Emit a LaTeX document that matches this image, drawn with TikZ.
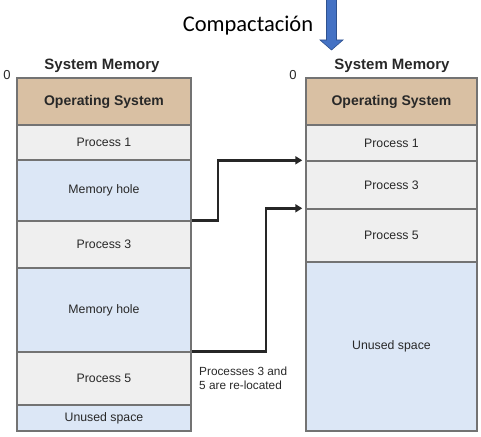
\documentclass[tikz,border=0pt]{standalone}
\usepackage{fontspec}
\setmainfont{Liberation Sans}
\newfontfamily\calib{Carlito}
\usetikzlibrary{arrows.meta}
\definecolor{osfill}{RGB}{217,192,163}
\definecolor{procfill}{RGB}{239,239,239}
\definecolor{holefill}{RGB}{220,231,246}
\definecolor{edgegray}{RGB}{115,115,115}
\definecolor{txtgray}{RGB}{40,40,40}
\definecolor{arrowblue}{RGB}{68,114,196}
\definecolor{arrowedge}{RGB}{47,82,143}
\tikzset{
  memcell/.style={draw=edgegray, line width=1.4pt, rectangle, inner sep=0pt,
    text=txtgray, font=\fontsize{12.3}{14}\selectfont},
  lcol/.style={memcell, minimum width=174pt},
  rcol/.style={memcell, minimum width=171pt},
  oscell/.style={fill=osfill, font=\bfseries\fontsize{14}{16}\selectfont},
  proccell/.style={fill=procfill},
  holecell/.style={fill=holefill},
  title/.style={font=\bfseries\fontsize{15}{17}\selectfont, text=txtgray},
  zerolbl/.style={font=\fontsize{13}{15}\selectfont, text=txtgray},
  moveline/.style={line width=2.4pt, draw=black!85, shorten >=3pt,
    -{Triangle[length=7pt,width=8pt]}}
}
\begin{document}
\begin{tikzpicture}[x=1pt,y=-1pt]
\useasboundingbox (0,0) rectangle (481,436);
% left column
\node[lcol, oscell, minimum height=47pt] (los) at (104,101.5) {Operating System};
\node[lcol, proccell, minimum height=35pt] (l1) at (104,142.5) {Process 1};
\node[lcol, holecell, minimum height=61pt] (lh1) at (104,190.5) {Memory hole};
\node[lcol, proccell, minimum height=47pt] (l3) at (104,244.5) {Process 3};
\node[lcol, holecell, minimum height=84pt] (lh2) at (104,310) {Memory hole};
\node[lcol, proccell, minimum height=53pt] (l5) at (104,378.5) {Process 5};
\node[lcol, holecell, minimum height=26pt] (lu) at (104,418) {Unused space};
% right column
\node[rcol, oscell, minimum height=47pt] (ros) at (391.5,101.5) {Operating System};
\node[rcol, proccell, minimum height=36pt] (r1) at (391.5,143) {Process 1};
\node[rcol, proccell, minimum height=48pt] (r3) at (391.5,185) {Process 3};
\node[rcol, proccell, minimum height=53pt] (r5) at (391.5,235.5) {Process 5};
\node[rcol, holecell, minimum height=169pt] (ru) at (391.5,346.5) {Unused space};
% titles
\node[title] (ltitle) at (102,66) {System Memory};
\node[title] (rtitle) at (392,66) {System Memory};
\node[zerolbl] (lzero) at (7,75) {0};
\node[zerolbl] (rzero) at (293,75) {0};
% relocation arrows
\draw[moveline] (l3.north east) -- ++(26,0) |- (r3.north west);
\draw[moveline] (l5.north east) -- ++(74,0) |- (r5.north west);
\node[anchor=north west, align=left, text=txtgray, font=\fontsize{11.8}{14}\selectfont, inner sep=0pt] (note) at (199,367) {Processes 3 and\\5 are re-located};
% compaction
\node[anchor=base, font=\calib\fontsize{22.5}{24}\selectfont, inner sep=0pt] (comp) at (248,32) {Compactación};
\filldraw[fill=arrowblue, draw=arrowedge, line width=0.6pt]
  (326.5,-1) -- (336.5,-1) -- (336.5,40) -- (343,40) -- (331.5,50) -- (320,40) -- (326.5,40) -- cycle;
\end{tikzpicture}
\end{document}
